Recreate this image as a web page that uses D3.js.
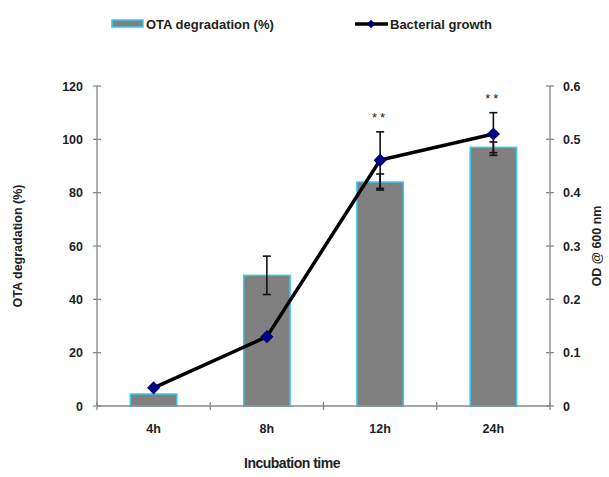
<!DOCTYPE html>
<html>
<head>
<meta charset="utf-8">
<script src="https://cdn.jsdelivr.net/npm/d3@7"></script>
<style>
    body { margin: 0; background: #fff; }
    svg text { font-family: "Liberation Sans", Arial, sans-serif; font-weight: bold; fill: #222; }
</style>
</head>
<body>
<div id="chart"></div>
<script>
// Data
const categories = ['4h', '8h', '12h', '24h'];
const degradation = [4.5, 49, 84, 97];          // OTA degradation (%)
const degradationErr = [0, 7.2, 3, 2];
const growth = [0.034, 0.13, 0.461, 0.51];      // OD @ 600 nm
const growthErr = [0, 0, 0.053, 0.04];
const stars = ['', '', '**', '**'];
const leftTicks = [0, 20, 40, 60, 80, 100, 120];
const rightTicks = [0, 0.1, 0.2, 0.3, 0.4, 0.5, 0.6];

const W = 609, H = 477;
const plot = { left: 97, right: 550, top: 86, bottom: 406 };

const colors = {
    bar: '#808080',
    barEdge: '#33ccee',
    line: '#000000',
    marker: '#000080',
    axis: '#888888'
};

const svg = d3.select('#chart').append('svg')
    .attr('width', W)
    .attr('height', H);

// Scales
const x = d3.scaleBand()
    .domain(categories)
    .range([plot.left, plot.right])
    .paddingInner(0.59)
    .paddingOuter(0.295);

const yLeft = d3.scaleLinear().domain([0, 120]).range([plot.bottom, plot.top]);
const yRight = d3.scaleLinear().domain([0, 0.6]).range([plot.bottom, plot.top]);

const step = x.step();
const cx = d => x(d) + x.bandwidth() / 2;

// Bars
svg.selectAll('.bar')
    .data(categories)
    .enter().append('rect')
    .attr('class', 'bar')
    .attr('x', d => x(d))
    .attr('y', (d, i) => yLeft(degradation[i]))
    .attr('width', x.bandwidth())
    .attr('height', (d, i) => plot.bottom - yLeft(degradation[i]))
    .attr('fill', colors.bar)
    .attr('stroke', colors.barEdge)
    .attr('stroke-width', 1.5);

// Error bars helper
function errorBar(xc, y0, y1) {
    if (Math.abs(y1 - y0) < 0.5) return;
    const g = svg.append('g').attr('stroke', '#111').attr('stroke-width', 1.6);
    g.append('line').attr('x1', xc).attr('x2', xc).attr('y1', y0).attr('y2', y1);
    g.append('line').attr('x1', xc - 4).attr('x2', xc + 4).attr('y1', y0).attr('y2', y0);
    g.append('line').attr('x1', xc - 4).attr('x2', xc + 4).attr('y1', y1).attr('y2', y1);
}

categories.forEach((c, i) => {
    if (degradationErr[i] > 0) {
        errorBar(cx(c), yLeft(degradation[i] + degradationErr[i]), yLeft(degradation[i] - degradationErr[i]));
    }
});

// Axes
const axisG = svg.append('g').attr('stroke', colors.axis).attr('stroke-width', 1.3);
axisG.append('line').attr('x1', plot.left).attr('x2', plot.left).attr('y1', plot.top).attr('y2', plot.bottom);
axisG.append('line').attr('x1', plot.right).attr('x2', plot.right).attr('y1', plot.top).attr('y2', plot.bottom);
axisG.append('line').attr('x1', plot.left).attr('x2', plot.right).attr('y1', plot.bottom).attr('y2', plot.bottom);

leftTicks.forEach(t => {
    axisG.append('line').attr('x1', plot.left - 4).attr('x2', plot.left + 4)
        .attr('y1', yLeft(t)).attr('y2', yLeft(t));
    svg.append('text')
        .attr('x', plot.left - 14).attr('y', yLeft(t)).attr('dy', '0.36em')
        .attr('text-anchor', 'end').style('font-size', '12.5px')
        .text(t);
});

rightTicks.forEach(t => {
    axisG.append('line').attr('x1', plot.right - 4).attr('x2', plot.right + 4)
        .attr('y1', yRight(t)).attr('y2', yRight(t));
    svg.append('text')
        .attr('x', plot.right + 13).attr('y', yRight(t)).attr('dy', '0.36em')
        .attr('text-anchor', 'start').style('font-size', '12.5px')
        .text(t === 0 ? '0' : t.toFixed(1));
});

// category boundary ticks
d3.range(categories.length + 1).forEach(k => {
    const xb = plot.left + k * step;
    axisG.append('line').attr('x1', xb).attr('x2', xb)
        .attr('y1', plot.bottom - 4).attr('y2', plot.bottom + 4);
});

categories.forEach(c => {
    svg.append('text')
        .attr('x', cx(c)).attr('y', 433)
        .attr('text-anchor', 'middle').style('font-size', '12.5px')
        .text(c);
});

// Growth line
const line = d3.line()
    .x((d, i) => cx(categories[i]))
    .y(d => yRight(d));

svg.append('path')
    .datum(growth)
    .attr('fill', 'none')
    .attr('stroke', colors.line)
    .attr('stroke-width', 3.5)
    .attr('d', line);

categories.forEach((c, i) => {
    if (growthErr[i] > 0) {
        errorBar(cx(c), yRight(growth[i] + growthErr[i]), yRight(growth[i] - growthErr[i]));
    }
});

svg.selectAll('.marker')
    .data(growth)
    .enter().append('path')
    .attr('class', 'marker')
    .attr('transform', (d, i) => `translate(${cx(categories[i])},${yRight(d)})`)
    .attr('d', d3.symbol().type(d3.symbolDiamond2).size(110))
    .attr('fill', colors.marker);

// Significance stars
categories.forEach((c, i) => {
    if (!stars[i]) return;
    svg.append('text')
        .attr('x', cx(c)).attr('y', yRight(growth[i] + growthErr[i]) - 10)
        .attr('text-anchor', 'middle')
        .style('font-size', '13px').style('font-weight', 'normal').style('letter-spacing', '3px')
        .text(stars[i]);
});

// Axis titles
svg.append('text')
    .attr('transform', `translate(22, ${(plot.top + plot.bottom) / 2}) rotate(-90)`)
    .attr('text-anchor', 'middle').style('font-size', '12.5px')
    .text('OTA degradation (%)');

svg.append('text')
    .attr('transform', `translate(601, ${(plot.top + plot.bottom) / 2}) rotate(-90)`)
    .attr('text-anchor', 'middle').style('font-size', '12.5px')
    .text('OD @ 600 nm');

svg.append('text')
    .attr('x', 292).attr('y', 468)
    .attr('text-anchor', 'middle')
    .style('font-size', '14px').style('letter-spacing', '-0.5px')
    .text('Incubation time');

// Legend
const legend = svg.append('g');
legend.append('rect')
    .attr('x', 112).attr('y', 20).attr('width', 31).attr('height', 7)
    .attr('fill', colors.bar).attr('stroke', colors.barEdge).attr('stroke-width', 1.5);
legend.append('text')
    .attr('x', 146).attr('y', 24).attr('dy', '0.36em').style('font-size', '13px')
    .text('OTA degradation (%)');

legend.append('line')
    .attr('x1', 355).attr('x2', 388).attr('y1', 24).attr('y2', 24)
    .attr('stroke', colors.line).attr('stroke-width', 3.5);
legend.append('path')
    .attr('transform', 'translate(371,24)')
    .attr('d', d3.symbol().type(d3.symbolDiamond2).size(45))
    .attr('fill', colors.marker);
legend.append('text')
    .attr('x', 390).attr('y', 24).attr('dy', '0.36em').style('font-size', '13px')
    .text('Bacterial growth');
</script>
</body>
</html>
